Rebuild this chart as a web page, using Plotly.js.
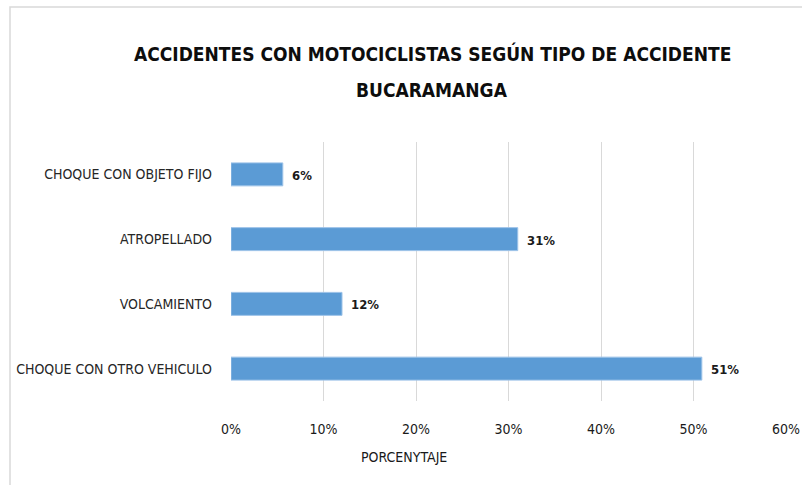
<!DOCTYPE html>
<html>
<head>
<meta charset="utf-8">
<script src="https://cdn.plot.ly/plotly-3.0.1.min.js"></script>
<style>html,body{margin:0;padding:0;background:#fff;}#chart{width:802px;height:485px;}</style>
</head>
<body>
<div id="chart"></div>
<script>
const categories = ["CHOQUE CON OTRO VEHICULO", "VOLCAMIENTO", "ATROPELLADO", "CHOQUE CON OBJETO FIJO"];
const values = [50.9, 12.0, 31.0, 5.6];
const valueLabels = ["51%", "12%", "31%", "6%"];
const tickVals = [0, 10, 20, 30, 40, 50, 60];
const tickText = ["0%", "10%", "20%", "30%", "40%", "50%", "60%"];
const titleLines = ["ACCIDENTES CON MOTOCICLISTAS SEGÚN TIPO DE ACCIDENTE", "BUCARAMANGA"];
const xTitle = "PORCENYTAJE";

const FONT = "'DejaVu Sans Condensed', 'Liberation Sans', sans-serif";
const W = 802, H = 485, L = 231, R = 16, T = 142, B = 84;
const pw = W - L - R, ph = H - T - B;
const px = x => (x - L) / pw;
const py = y => 1 - (y - T) / ph;

const trace = {
  type: 'bar',
  orientation: 'h',
  x: values,
  y: categories,
  marker: {color: '#5b9bd5', line: {color: '#9cc2e8', width: 1}},
  hoverinfo: 'none'
};

const annotations = values.map((v, i) => ({
  x: v, y: categories[i], xref: 'x', yref: 'y',
  text: '<b>' + valueLabels[i] + '</b>', showarrow: false,
  xanchor: 'left', xshift: 7, yshift: -1,
  font: {family: FONT, size: 13, color: '#1a1a1a'}
}));
annotations.push({
  x: px(432), y: py(53), xref: 'paper', yref: 'paper', text: '<b>' + titleLines[0] + '</b>',
  showarrow: false, xanchor: 'center', yanchor: 'middle',
  font: {family: FONT, size: 19, color: '#0d0d0d'}
});
annotations.push({
  x: px(432), y: py(90), xref: 'paper', yref: 'paper', text: '<b>' + titleLines[1] + '</b>',
  showarrow: false, xanchor: 'center', yanchor: 'middle',
  font: {family: FONT, size: 19, color: '#0d0d0d'}
});
annotations.push({
  x: px(404), y: py(457), xref: 'paper', yref: 'paper', text: xTitle,
  showarrow: false, xanchor: 'center', yanchor: 'middle',
  font: {family: FONT, size: 14, color: '#1a1a1a'}
});

const layout = {
  width: W, height: H,
  margin: {l: L, r: R, t: T, b: B, pad: 0},
  paper_bgcolor: '#fff', plot_bgcolor: '#fff',
  showlegend: false,
  bargap: 0.645,
  xaxis: {
    range: [0, 60], tickvals: tickVals, ticktext: tickText,
    showgrid: true, gridcolor: '#d9d9d9', gridwidth: 1,
    zeroline: false, showline: false, ticks: '',
    ticklabelstandoff: 18,
    tickfont: {family: FONT, size: 14, color: '#1a1a1a'},
    fixedrange: true
  },
  yaxis: {
    type: 'category', categoryorder: 'array', categoryarray: categories,
    range: [-0.5, 3.5],
    showgrid: false, zeroline: false, showline: false, ticks: '',
    ticklabelstandoff: 18,
    tickfont: {family: FONT, size: 14, color: '#262626'},
    fixedrange: true
  },
  annotations: annotations,
  shapes: [{
    type: 'rect', xref: 'paper', yref: 'paper',
    x0: px(10), x1: px(900), y0: py(600), y1: py(7),
    line: {color: '#d9d9d9', width: 1.5}, fillcolor: 'rgba(0,0,0,0)', layer: 'below'
  }]
};

Plotly.newPlot('chart', [trace], layout, {displayModeBar: false, staticPlot: true});
</script>
</body>
</html>
